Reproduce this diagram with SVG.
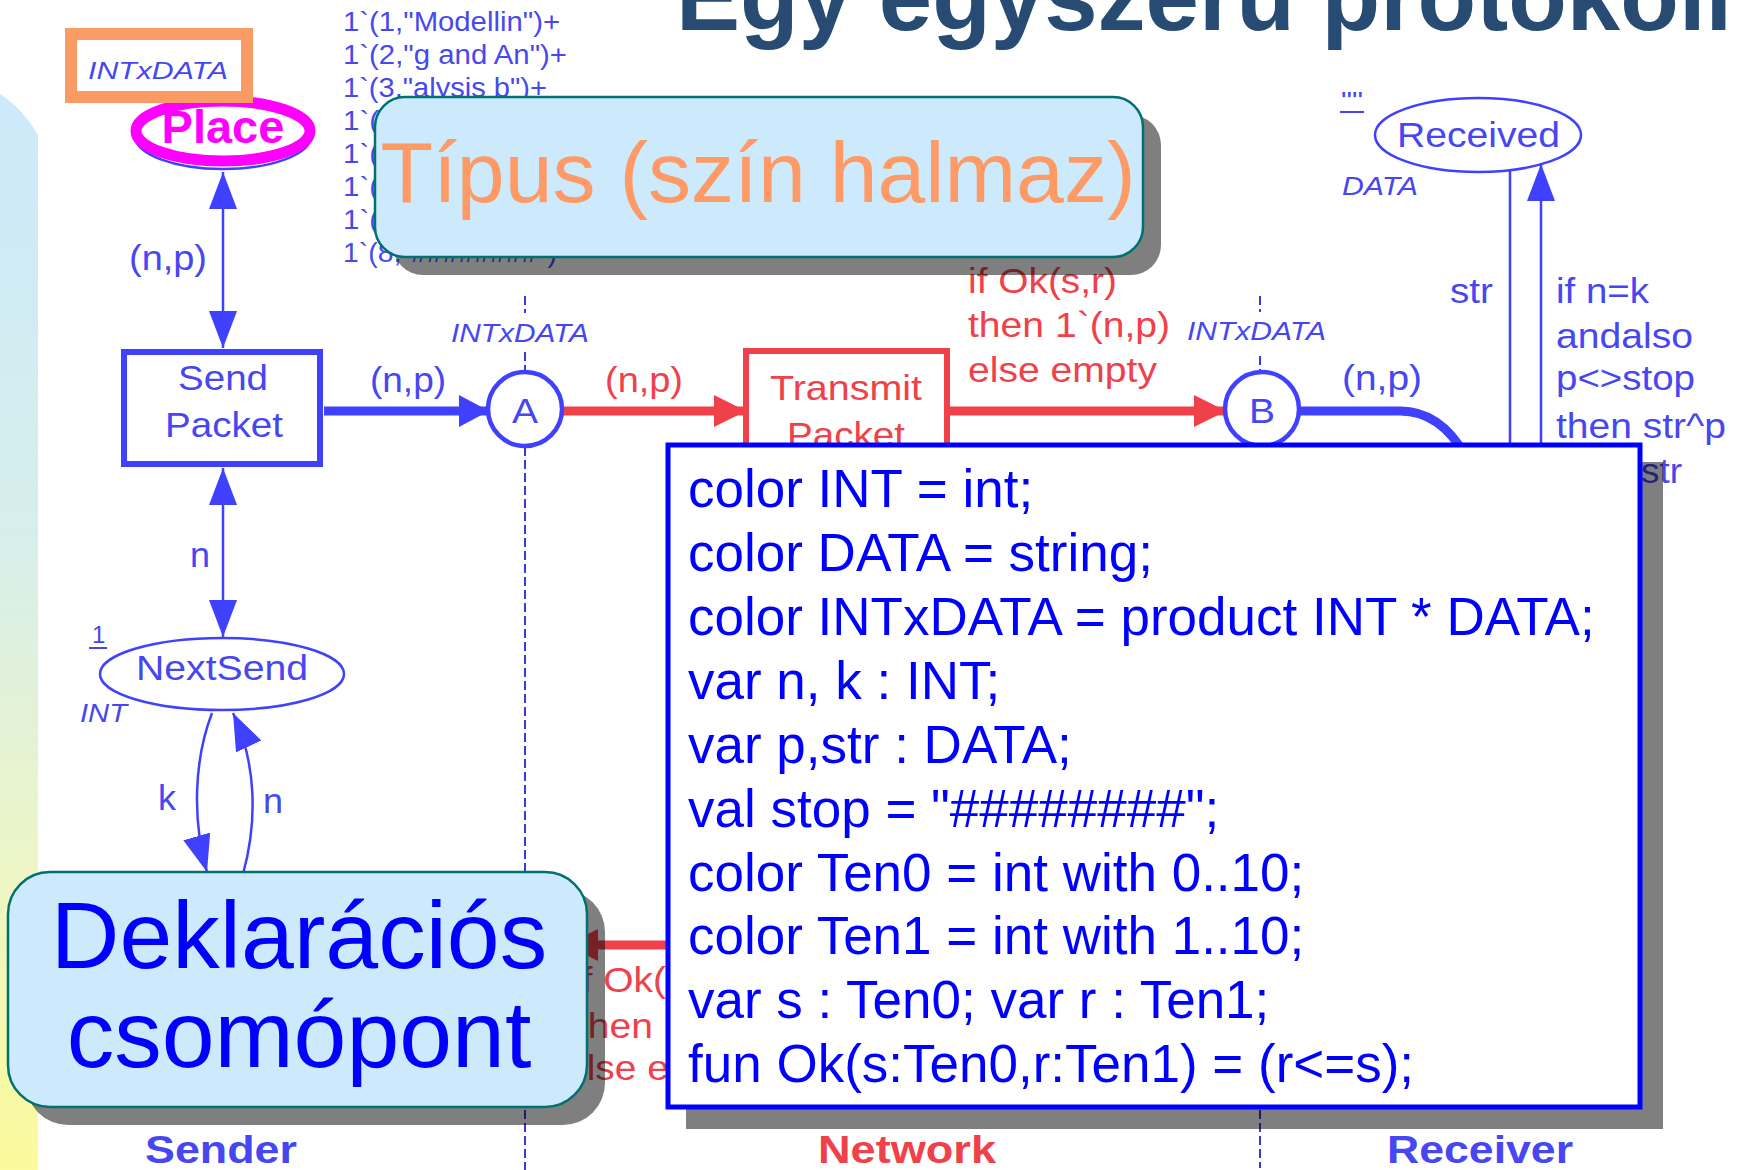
<svg xmlns="http://www.w3.org/2000/svg" width="1738" height="1170" viewBox="0 0 1738 1170">
<style>
text{font-family:"Liberation Sans",Arial,sans-serif}
.lb{font-size:35px;fill:#4646f2}
.lr{font-size:35px;fill:#f0404a}
.it{font-style:italic}
.tok{font-size:27px;fill:#4848f0}
.bold{font-size:38px;font-weight:bold}
.thin{fill:none;stroke:#4040ff;stroke-width:2.5}
.thick{fill:none;stroke:#4040ff;stroke-width:9}
.red{fill:none;stroke:#f0404a;stroke-width:9}
.dash{fill:none;stroke:#3a3ad8;stroke-width:2;stroke-dasharray:9 4}
.shadow{fill:#000;fill-opacity:0.5}
.callout{fill:#cdeafc;stroke:#007070;stroke-width:2.5}
.decl{font-size:53px;fill:#0000ff}
</style>
<defs>
<linearGradient id="strip" x1="0" y1="0" x2="0" y2="1">
<stop offset="0" stop-color="#cde9fa"/>
<stop offset="0.4" stop-color="#d6eeec"/>
<stop offset="0.7" stop-color="#ecf5c8"/>
<stop offset="1" stop-color="#fbfa9c"/>
</linearGradient>
<marker id="ab" markerUnits="userSpaceOnUse" markerWidth="38" markerHeight="28" refX="37" refY="14" orient="auto-start-reverse"><path d="M0,0 L37,14 L0,28 Z" fill="#4040ff"/></marker>
<marker id="abt" markerUnits="userSpaceOnUse" markerWidth="31" markerHeight="32" refX="30" refY="16" orient="auto"><path d="M0,0 L30,16 L0,32 Z" fill="#4040ff"/></marker>
<marker id="ar" markerUnits="userSpaceOnUse" markerWidth="33" markerHeight="32" refX="32" refY="16" orient="auto"><path d="M0,0 L32,16 L0,32 Z" fill="#f0404a"/></marker>
</defs>
<rect width="1738" height="1170" fill="#fff"/>
<path d="M0,94 Q22,108 38,135 L38,1170 L0,1170 Z" fill="url(#strip)"/>
<text x="676" y="30" font-size="96" font-weight="bold" fill="#274b72">Egy egyszerű protokoll</text>

<g id="dividers">
<path class="dash" d="M525 296 V313 M525 352 V372 M525 447 V1170"/>
<path class="dash" d="M1260 296 V312 M1260 356 V372 M1260 447 V1168"/>
</g>

<g id="connectors">
<path class="thin" d="M223 172 L223 348" marker-start="url(#ab)" marker-end="url(#ab)"/>
<path class="thin" d="M223 468 L223 637" marker-start="url(#ab)" marker-end="url(#ab)"/>
<path class="thin" d="M212 713 C194 760 192 820 207 872" marker-end="url(#ab)"/>
<path class="thin" d="M243 874 C258 820 256 762 233 713" marker-end="url(#ab)"/>
<path class="thick" d="M324 411 L489 411" marker-end="url(#abt)"/>
<path class="red" d="M563 411 L746 411" marker-end="url(#ar)"/>
<path class="red" d="M950 411 L1226 411" marker-end="url(#ar)"/>
<path class="thick" d="M1299 411 L1400 411 Q1440 411 1465 455"/>
<path class="thin" d="M1510 170 L1510 446"/>
<path class="thin" d="M1541 446 L1541 164" marker-end="url(#ab)"/>
<path class="red" d="M680 945 L566 945" marker-end="url(#ar)"/>
<text class="lb" x="129" y="270" textLength="78" lengthAdjust="spacingAndGlyphs">(n,p)</text>
<text class="lb" x="370" y="392" textLength="76" lengthAdjust="spacingAndGlyphs">(n,p)</text>
<text class="lb" x="190" y="567" textLength="20" lengthAdjust="spacingAndGlyphs">n</text>
<text class="lb" x="158" y="810" textLength="18" lengthAdjust="spacingAndGlyphs">k</text>
<text class="lb" x="263" y="813" textLength="20" lengthAdjust="spacingAndGlyphs">n</text>
<text class="lr" x="605" y="392" textLength="78" lengthAdjust="spacingAndGlyphs">(n,p)</text>
<text class="lr" x="968" y="293" textLength="149" lengthAdjust="spacingAndGlyphs">if Ok(s,r)</text>
<text class="lr" x="968" y="337" textLength="202" lengthAdjust="spacingAndGlyphs">then 1`(n,p)</text>
<text class="lr" x="968" y="382" textLength="189" lengthAdjust="spacingAndGlyphs">else empty</text>
<text class="lb" x="1342" y="390" textLength="80" lengthAdjust="spacingAndGlyphs">(n,p)</text>
<text class="lb" x="1450" y="303" textLength="43" lengthAdjust="spacingAndGlyphs">str</text>
<text class="lb" x="1556" y="303" textLength="93" lengthAdjust="spacingAndGlyphs">if n=k</text>
<text class="lb" x="1556" y="348" textLength="137" lengthAdjust="spacingAndGlyphs">andalso</text>
<text class="lb" x="1556" y="390" textLength="139" lengthAdjust="spacingAndGlyphs">p&lt;&gt;stop</text>
<text class="lb" x="1556" y="438" textLength="170" lengthAdjust="spacingAndGlyphs">then str^p</text>
<text class="lb" x="1641" y="483" textLength="41" lengthAdjust="spacingAndGlyphs">str</text>
<text class="lr" x="573" y="992" textLength="93" lengthAdjust="spacingAndGlyphs">if Ok(</text>
<text class="lr" x="577" y="1038" textLength="76" lengthAdjust="spacingAndGlyphs">then</text>
<text class="lr" x="565" y="1080" textLength="104" lengthAdjust="spacingAndGlyphs">else e</text>
</g>

<g id="tokens">
<text class="tok" x="343" y="31" textLength="217" lengthAdjust="spacingAndGlyphs">1`(1,"Modellin")+</text>
<text class="tok" x="343" y="64" textLength="224" lengthAdjust="spacingAndGlyphs">1`(2,"g and An")+</text>
<text class="tok" x="343" y="97" textLength="204" lengthAdjust="spacingAndGlyphs">1`(3,"alysis b")+</text>
<text class="tok" x="343" y="130" textLength="36" lengthAdjust="spacingAndGlyphs">1`(</text>
<text class="tok" x="343" y="163" textLength="36" lengthAdjust="spacingAndGlyphs">1`(</text>
<text class="tok" x="343" y="196" textLength="36" lengthAdjust="spacingAndGlyphs">1`(</text>
<text class="tok" x="343" y="229" textLength="36" lengthAdjust="spacingAndGlyphs">1`(</text>
<text class="tok" x="343" y="262" textLength="214" lengthAdjust="spacingAndGlyphs">1`(8,"########")</text>
</g>

<g id="send-packet">
<rect x="124" y="352" width="196" height="112" fill="#fff" stroke="#4040ff" stroke-width="6"/>
<text class="lb" x="178" y="390" textLength="90" lengthAdjust="spacingAndGlyphs">Send</text>
<text class="lb" x="165" y="437" textLength="118" lengthAdjust="spacingAndGlyphs">Packet</text>
</g>

<g id="place-A">
<circle cx="525" cy="409" r="37" fill="#fff" stroke="#4040ff" stroke-width="4.5"/>
<text class="lb" x="512" y="423" textLength="26" lengthAdjust="spacingAndGlyphs">A</text>
<text class="lb it" x="451" y="342" style="font-size:26px" textLength="138" lengthAdjust="spacingAndGlyphs">INTxDATA</text>
</g>

<g id="transmit-packet">
<rect x="746" y="351" width="201" height="116" fill="#fff" stroke="#f0404a" stroke-width="6"/>
<text class="lr" x="770" y="400" textLength="152" lengthAdjust="spacingAndGlyphs">Transmit</text>
<text class="lr" x="787" y="447" textLength="118" lengthAdjust="spacingAndGlyphs">Packet</text>
</g>

<g id="place-B">
<circle cx="1262" cy="409" r="37" fill="#fff" stroke="#4040ff" stroke-width="4.5"/>
<text class="lb" x="1249" y="423" textLength="26" lengthAdjust="spacingAndGlyphs">B</text>
<text class="lb it" x="1187" y="340" style="font-size:26px" textLength="139" lengthAdjust="spacingAndGlyphs">INTxDATA</text>
</g>

<g id="nextsend">
<ellipse cx="222" cy="674" rx="122" ry="36" fill="#fff" stroke="#4040ff" stroke-width="2.5"/>
<text class="lb" x="136" y="680" textLength="172" lengthAdjust="spacingAndGlyphs">NextSend</text>
<text class="lb it" x="80" y="722" style="font-size:26px" textLength="47" lengthAdjust="spacingAndGlyphs">INT</text>
<text class="lb" x="92" y="643" style="font-size:24px">1</text>
<path d="M89 648 H107" stroke="#4646f2" stroke-width="2"/>
</g>

<g id="received">
<ellipse cx="1478" cy="135" rx="103" ry="37" fill="#fff" stroke="#4040ff" stroke-width="2.5"/>
<text class="lb" x="1397" y="147" textLength="163" lengthAdjust="spacingAndGlyphs">Received</text>
<text class="lb it" x="1342" y="195" style="font-size:26px" textLength="76" lengthAdjust="spacingAndGlyphs">DATA</text>
<text class="lb" x="1341" y="109" style="font-size:24px" textLength="22" lengthAdjust="spacingAndGlyphs">""</text>
<path d="M1340 112 H1364" stroke="#4646f2" stroke-width="2"/>
</g>

<g id="place-highlight">
<ellipse cx="223" cy="136" rx="88" ry="33" fill="#fff" stroke="#4040ff" stroke-width="2.5"/>
<ellipse cx="223" cy="131" rx="87" ry="30" fill="#fff" stroke="#ff00ff" stroke-width="11"/>
<text x="223" y="143" font-size="47" font-weight="bold" fill="#ff00ff" text-anchor="middle">Place</text>
<rect x="71" y="34" width="176" height="63" fill="none" stroke="#fa9a64" stroke-width="12"/>
<text class="lb it" x="88" y="79" style="font-size:24px" textLength="140" lengthAdjust="spacingAndGlyphs">INTxDATA</text>
</g>

<g id="labels-bottom">
<text class="bold" x="145" y="1163" fill="#4646f2" textLength="152" lengthAdjust="spacingAndGlyphs">Sender</text>
<text class="bold" x="818" y="1163" fill="#f0404a" textLength="178" lengthAdjust="spacingAndGlyphs">Network</text>
<text class="bold" x="1387" y="1163" fill="#4646f2" textLength="186" lengthAdjust="spacingAndGlyphs">Receiver</text>
</g>

<g id="tipus-callout">
<rect class="shadow" x="393" y="115" width="768" height="160" rx="30"/>
<rect class="callout" x="375" y="97" width="768" height="160" rx="30"/>
<text x="758" y="202" font-size="86" fill="#fd9a66" text-anchor="middle">Típus (szín halmaz)</text>
</g>

<g id="deklaracios-callout">
<rect class="shadow" x="26" y="890" width="579" height="235" rx="42"/>
<rect class="callout" x="8" y="872" width="579" height="235" rx="42"/>
<text x="299" y="968" font-size="95" fill="#0000ff" text-anchor="middle">Deklarációs</text>
<text x="299" y="1067" font-size="95" fill="#0000ff" text-anchor="middle">csomópont</text>
</g>

<g id="declarations">
<rect class="shadow" x="686" y="462" width="977" height="667"/>
<rect x="668" y="445" width="972" height="662" fill="#fff" stroke="#0000ff" stroke-width="5"/>
<text class="decl" x="688" y="507">color INT = int;</text>
<text class="decl" x="688" y="571">color DATA = string;</text>
<text class="decl" x="688" y="635">color INTxDATA = product INT * DATA;</text>
<text class="decl" x="688" y="699">var n, k : INT;</text>
<text class="decl" x="688" y="763">var p,str : DATA;</text>
<text class="decl" x="688" y="827">val stop = "########";</text>
<text class="decl" x="688" y="891">color Ten0 = int with 0..10;</text>
<text class="decl" x="688" y="954">color Ten1 = int with 1..10;</text>
<text class="decl" x="688" y="1018">var s : Ten0; var r : Ten1;</text>
<text class="decl" x="688" y="1082">fun Ok(s:Ten0,r:Ten1) = (r&lt;=s);</text>
</g>
</svg>
